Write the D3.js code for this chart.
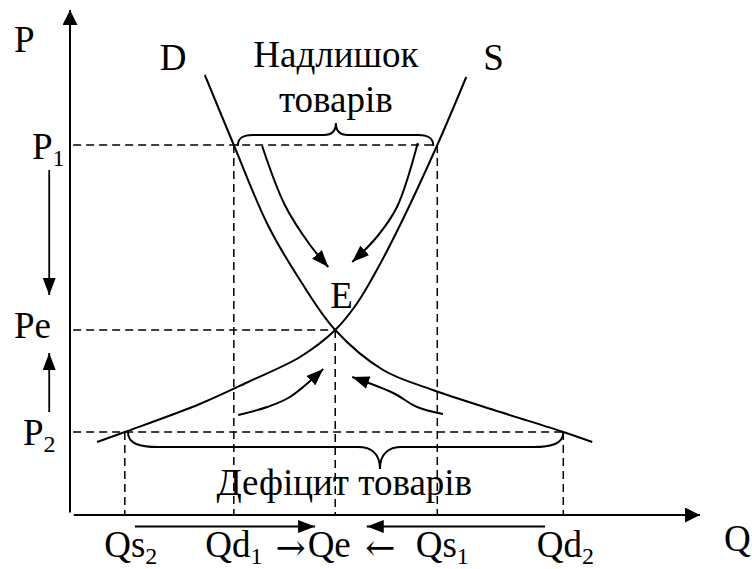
<!DOCTYPE html>
<html>
<head>
<meta charset="utf-8">
<script src="https://cdn.jsdelivr.net/npm/d3@7"></script>
<style>
  body { margin: 0; background: #fff; }
</style>
</head>
<body>
<svg id="chart" width="752" height="569"></svg>
<script>
// ===== data: [quantity, price] =====
const demand = [[2.14, 8.8], [2.60, 7.4], [3.14, 5.8], [3.65, 4.7], [4.21, 3.7], [4.97, 2.9], [5.76, 2.5], [6.83, 2.06], [7.83, 1.66], [8.29, 1.46]]
const supply = [[0.43, 1.46], [0.87, 1.66], [2.06, 2.22], [2.86, 2.68], [3.65, 3.16], [4.21, 3.7], [4.56, 4.24], [4.87, 4.9], [5.24, 5.8], [5.83, 7.4], [6.29, 8.76]]

// price levels: P1, Pe, P2 and the quantity where each dashed line stops
const priceNames = ['P1', 'Pe', 'P2']
const priceValues = [7.4, 3.7, 1.66]
const priceReach = [5.83, 4.21, 7.83]

// quantity levels and the price where each dashed line starts
const qtyNames = ['Qs2', 'Qd1', 'Qe', 'Qs1', 'Qd2']
const qtyValues = [0.87, 2.60, 4.21, 5.83, 7.83]
const qtyReach = [1.66, 7.4, 3.7, 7.4, 1.66]

// movement arrows toward equilibrium
const moveArrows = [
    [[3.05, 7.38], [3.41, 6.20], [3.81, 5.40], [4.10, 4.96]],
    [[5.52, 7.44], [5.19, 6.16], [4.87, 5.56], [4.48, 5.06]],
    [[2.67, 2.00], [3.13, 2.16], [3.49, 2.36], [4.02, 2.92]],
    [[5.92, 2.02], [5.51, 2.16], [5.13, 2.44], [4.48, 2.76]]
]
const priceMoves = [[[-0.33, 6.9], [-0.33, 4.4]], [[-0.33, 2.06], [-0.33, 3.24]]]
const qtyMoves = [[[1.03, -0.23], [3.89, -0.23]], [[7.54, -0.23], [4.71, -0.23]]]

// braces: [from q, to q, at price, tip q]
const surplusBrace = [2.60, 5.83, 7.4, 4.22]
const deficitBrace = [0.92, 7.83, 1.66, 4.92]

const surplusText = ['Надлишок', 'товарів']
const deficitText = 'Дефіцит товарів'

// ===== chart =====
const FONT = '"Liberation Serif", "Times New Roman", serif'
const svg = d3.select('#chart')
const x = d3.scaleLinear().domain([0, 10]).range([70, 700])
const y = d3.scaleLinear().domain([0, 10]).range([515, 15])

const defs = svg.append('defs')
function addMarker(id, len, wid) {
    defs.append('marker')
        .attr('id', id)
        .attr('viewBox', '0 0 10 10')
        .attr('refX', 10).attr('refY', 5)
        .attr('markerUnits', 'userSpaceOnUse')
        .attr('markerWidth', len).attr('markerHeight', wid)
        .attr('orient', 'auto')
        .attr('preserveAspectRatio', 'none')
        .append('path').attr('d', 'M0,0 L10,5 L0,10 Z').attr('fill', '#000')
}
addMarker('axis-head', 15, 15)
addMarker('arrow-head', 17, 13)

const line = d3.line().x(d => x(d[0])).y(d => y(d[1]))
const curve = d3.line().x(d => x(d[0])).y(d => y(d[1])).curve(d3.curveCatmullRom)

// axes
svg.append('path').attr('d', line([[0, 0.05], [0, 10.1]]))
    .attr('stroke', '#000').attr('stroke-width', 2).attr('fill', 'none')
    .attr('marker-end', 'url(#axis-head)')
svg.append('path').attr('d', line([[0.06, 0], [10, 0]]))
    .attr('stroke', '#000').attr('stroke-width', 2).attr('fill', 'none')
    .attr('marker-end', 'url(#axis-head)')

// dashed guides
const dash = svg.append('g').attr('stroke', '#000').attr('stroke-width', 1.5).attr('stroke-dasharray', '8,5')
priceValues.forEach((p, i) => {
    dash.append('line')
        .attr('x1', x(0.05)).attr('x2', x(priceReach[i]))
        .attr('y1', y(p)).attr('y2', y(p))
})
qtyValues.forEach((q, i) => {
    dash.append('line')
        .attr('x1', x(q)).attr('x2', x(q))
        .attr('y1', y(qtyReach[i])).attr('y2', y(0))
})

// demand / supply
svg.append('path').attr('d', curve(demand)).attr('fill', 'none').attr('stroke', '#000').attr('stroke-width', 2)
svg.append('path').attr('d', curve(supply)).attr('fill', 'none').attr('stroke', '#000').attr('stroke-width', 2)

// arrows
moveArrows.forEach(a => {
    svg.append('path').attr('d', curve(a)).attr('fill', 'none')
        .attr('stroke', '#000').attr('stroke-width', 2)
        .attr('marker-end', 'url(#arrow-head)')
})
priceMoves.concat(qtyMoves).forEach(a => {
    svg.append('path').attr('d', line(a)).attr('fill', 'none')
        .attr('stroke', '#000').attr('stroke-width', 1.8)
        .attr('marker-end', 'url(#arrow-head)')
})

// braces
function bracePath(x1, x2, xm, y0, dir, r, m, h) {
    const y1 = y0 + dir * h
    const yt = y1 + dir * m
    return `M${x1},${y0} C${x1},${y0 + dir * h * 0.8} ${x1 + r * 0.4},${y1} ${x1 + r},${y1}` +
        ` L${xm - m},${y1} C${xm - m * 0.4},${y1} ${xm},${y1 + dir * m * 0.3} ${xm},${yt}` +
        ` C${xm},${y1 + dir * m * 0.3} ${xm + m * 0.4},${y1} ${xm + m},${y1}` +
        ` L${x2 - r},${y1} C${x2 - r * 0.4},${y1} ${x2},${y0 + dir * h * 0.8} ${x2},${y0}`
}
svg.append('path')
    .attr('d', bracePath(x(surplusBrace[0]) + 4, x(surplusBrace[1]) - 4, x(surplusBrace[3]), y(surplusBrace[2]) + 1, -1, 15, 12, 11))
    .attr('fill', 'none').attr('stroke', '#000').attr('stroke-width', 2)
svg.append('path')
    .attr('d', bracePath(x(deficitBrace[0]), x(deficitBrace[1]), x(deficitBrace[3]), y(deficitBrace[2]), 1, 30, 22, 15))
    .attr('fill', 'none').attr('stroke', '#000').attr('stroke-width', 2)

// labels
const FS = 37
function label(txt, sub, px, py, anchor) {
    const t = svg.append('text').attr('x', px).attr('y', py)
        .attr('font-family', FONT)
        .attr('font-size', FS).attr('fill', '#000')
        .attr('text-anchor', anchor || 'start')
    t.append('tspan').text(txt)
    if (sub) t.append('tspan').attr('font-size', 24).attr('dy', 7).text(sub)
    return t
}
function split(name) {
    const m = name.match(/^(.*?)(\d?)$/)
    return [m[1], m[2]]
}

label('P', '', 14, 52)
label('Q', '', 724, 551)
label('D', '', x(demand[0][0]) - 45, y(demand[0][1]) - 5)
label('S', '', x(supply[supply.length - 1][0]) + 17, y(supply[supply.length - 1][1]) - 7)
label('E', '', x(qtyValues[2]) - 5, y(priceValues[1]) - 22)

const priceLabelX = [32, 14, 23]
const priceLabelDy = [14, 8, 13]
priceNames.forEach((n, i) => {
    const [a, b] = split(n)
    label(a, b, priceLabelX[i], y(priceValues[i]) + priceLabelDy[i])
})

const qtyLabelDx = [6, 0, -6, 5, 2]
qtyNames.forEach((n, i) => {
    const [a, b] = split(n)
    label(a, b, x(qtyValues[i]) + qtyLabelDx[i], 557, 'middle')
})
// arrow glyphs between the quantity labels (wider glyph from DejaVu Serif)
label('→', '', x((qtyValues[1] + qtyValues[2]) / 2) + 6, 560, 'middle')
    .attr('font-family', '"DejaVu Serif", serif').attr('font-size', 36)
label('←', '', x((qtyValues[2] + qtyValues[3]) / 2) - 6, 560, 'middle')
    .attr('font-family', '"DejaVu Serif", serif').attr('font-size', 36)

label(surplusText[0], '', x(surplusBrace[3]), 67, 'middle')
label(surplusText[1], '', x(surplusBrace[3]), 112, 'middle')
label(deficitText, '', x(qtyValues[2]) + 9, 495, 'middle')
</script>
</body>
</html>
